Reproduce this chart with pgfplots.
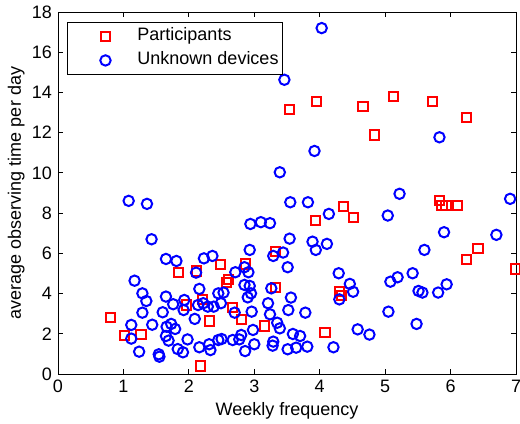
\documentclass[border=0pt]{standalone}
\usepackage{fontspec}
\setmainfont{Liberation Sans}
\usepackage{pgfplots}
\pgfplotsset{compat=1.18}
\begin{document}
\fontsize{18}{21}\selectfont
\begin{tikzpicture}
\begin{axis}[
  scale only axis, width=458pt, height=362pt,
  xmin=0, xmax=7, ymin=0, ymax=18,
  xtick={0,1,...,7}, ytick={0,2,...,18},
  tick align=inside, major tick length=5pt,
  axis line style={line width=0.9pt},
  tick style={line width=0.8pt, black},
  font=\fontsize{18}{21}\selectfont,
  /pgf/number format/assume math mode=true,
  xlabel={Weekly frequency},
  ylabel={average observing time per day},
  xlabel style={yshift=3pt},
  ylabel style={yshift=-5pt},
  legend cell align=left,
  legend style={at={(rel axis cs:0.0197,0.9724)}, anchor=north west,
    draw=black, line width=0.9pt, inner xsep=2pt, inner ysep=5pt,
    row sep=6pt, font=\fontsize{18}{21}\selectfont,
    nodes={inner ysep=0pt, text height=13pt, text depth=5pt}},
  legend image code/.code={\path[draw=none, fill=none] (0pt,0pt) -- (66pt,0pt); \draw[#1] plot coordinates {(36pt,0pt)};},
]
\coordinate (sw) at (rel axis cs:0,0);
\coordinate (ne) at (rel axis cs:1,1);
\addplot[only marks, mark=square, mark size=4.6pt, red, line width=2pt, mark options={solid}] coordinates {
(0.80,2.80) (1.02,1.91) (1.27,1.96) (1.84,5.06) (2.12,5.12) (2.48,5.46)
(1.97,3.43) (2.21,3.72) (2.31,2.64) (2.18,0.40) (2.87,5.47) (2.58,4.55)
(2.60,4.70) (3.32,4.30) (4.30,4.10) (4.33,3.92) (2.67,3.32) (2.80,2.72)
(3.15,2.39) (4.08,2.05) (3.32,6.09) (3.93,7.63) (4.36,8.32) (4.52,7.78)
(3.54,13.15) (3.95,13.55) (4.66,13.32) (5.13,13.80) (5.72,13.55) (6.24,12.76)
(4.84,11.88) (5.83,8.62) (5.87,8.36) (5.93,8.36) (6.11,8.36) (6.42,6.25)
(6.24,5.68) (6.99,5.22)
};
\addlegendentry{Participants}
\addplot[only marks, mark=o, mark size=5.2pt, blue, line width=2pt] coordinates {
(1.65,5.72) (1.81,5.62) (2.23,5.75) (2.36,5.87) (1.17,4.64) (2.11,5.04)
(1.29,4.01) (1.35,3.63) (1.65,3.85) (2.16,4.23) (1.76,3.47) (1.93,3.68)
(2.14,3.43) (2.22,3.52) (2.29,3.35) (2.38,3.35) (2.45,4.01) (1.92,3.18)
(1.29,3.05) (1.60,3.07) (2.09,2.74) (1.12,2.44) (1.44,2.45) (1.66,2.35)
(1.73,2.49) (1.79,2.24) (1.65,1.89) (1.69,1.66) (1.98,1.72) (1.12,1.76)
(1.24,1.11) (1.54,0.98) (1.55,0.86) (1.83,1.24) (1.91,1.08) (2.16,1.33)
(2.31,1.48) (2.33,1.19) (2.45,1.69) (1.08,8.61) (1.36,8.46) (1.43,6.70)
(3.92,11.09) (3.39,10.03) (3.55,8.54) (3.82,8.54) (4.14,7.96) (2.94,7.46)
(3.10,7.55) (3.24,7.50) (3.54,6.73) (3.89,6.58) (4.11,6.47) (3.94,6.17)
(2.93,6.17) (3.44,6.04) (3.29,5.87) (4.03,17.20) (3.46,14.63) (5.83,11.77)
(5.22,8.96) (5.04,7.88) (6.91,8.71) (5.90,7.05) (6.70,6.92) (5.60,6.17)
(2.71,5.06) (2.85,5.31) (2.91,5.06) (3.51,5.31) (4.29,5.01) (4.46,4.48)
(4.51,4.09) (4.30,3.71) (2.85,4.43) (2.93,4.38) (3.26,4.26) (2.53,4.05)
(2.95,4.01) (2.90,3.81) (3.56,3.80) (3.21,3.52) (2.49,3.52) (3.52,3.18)
(3.78,3.05) (3.24,2.97) (2.96,3.10) (2.70,3.05) (3.35,2.55) (3.39,2.27)
(2.98,2.19) (2.80,1.94) (2.77,1.72) (2.67,1.69) (2.50,1.74) (3.59,1.99)
(3.70,1.89) (3.29,1.61) (3.28,1.41) (3.00,1.48) (2.86,1.14) (3.51,1.23)
(3.64,1.31) (3.81,1.36) (4.21,1.33) (4.58,2.22) (4.76,1.96) (5.08,4.59)
(5.19,4.81) (5.42,5.01) (5.51,4.13) (5.57,4.05) (5.81,4.05) (5.94,4.46)
(5.05,3.10) (5.48,2.49)
};
\addlegendentry{Unknown devices}
\end{axis}
\pgfresetboundingbox
\useasboundingbox ([shift={(-58pt,-49pt)}]sw) rectangle ([shift={(4pt,12pt)}]ne);
\end{tikzpicture}
\end{document}
